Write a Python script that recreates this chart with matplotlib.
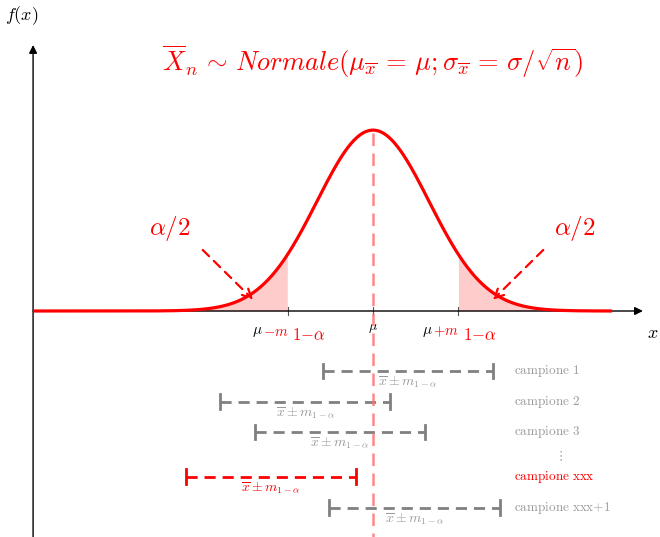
import numpy as np
import matplotlib
matplotlib.use("Agg")
import matplotlib.pyplot as plt

plt.rcParams["mathtext.fontset"] = "cm"

# Distribution of the sample mean (units of sigma, centred on mu)
mu = 0.0
sigma = 1.0
peak = 3.23          # drawn height of the density at mu
m_half = 1.52        # margin m_{1-alpha}
x_start, x_end = -6.07, 4.27

# Confidence intervals from successive samples
sample_labels = ["campione 1", "campione 2", "campione 3", "campione xxx", "campione xxx+1"]
sample_means = [0.62, -1.21, -0.59, -1.82, 0.74]
sample_rows = [-1.07, -1.62, -2.16, -2.96, -3.51]
sample_colors = ["#808080", "#808080", "#808080", "red", "#808080"]
label_colors = ["#9a9a9a", "#9a9a9a", "#9a9a9a", "red", "#9a9a9a"]

S = 56.0  # pixels per unit
fig = plt.figure(figsize=(6.6, 5.37), dpi=100)
ax = fig.add_axes([0, 0, 1, 1])
ax.set_xlim((0 - 373) / S, (660 - 373) / S)
ax.set_ylim((311 - 537) / S, 311 / S)
ax.axis("off")

# Axes with arrows
ax.annotate("", xy=(4.82, 0), xytext=(-6.07, 0),
            arrowprops=dict(arrowstyle="-|>", color="black", lw=1.0,
                            mutation_scale=12, shrinkA=0, shrinkB=0))
ax.annotate("", xy=(-6.07, 4.75), xytext=(-6.07, -4.1),
            arrowprops=dict(arrowstyle="-|>", color="black", lw=1.0,
                            mutation_scale=12, shrinkA=0, shrinkB=0))
ax.text(4.99, -0.39, r"$x$", fontsize=13, ha="center", va="center")
ax.text(-6.27, 5.27, r"$f(x)$", fontsize=13, ha="center", va="center")

# Density curve and the two tails
xs = np.linspace(x_start, x_end, 600)
ys = peak * np.exp(-((xs - mu) / sigma) ** 2 / 2)
left = xs <= mu - m_half
right = xs >= mu + m_half
ax.fill_between(xs[left], 0, ys[left], color="#ffcccc", lw=0)
ax.fill_between(xs[right], 0, ys[right], color="#ffcccc", lw=0)
ax.plot(xs, ys, color="red", lw=2.3, solid_capstyle="butt", zorder=5)

# Vertical dashed line at mu
ax.plot([mu, mu], [peak - 0.05, -4.1], color=(1, 0.45, 0.45), lw=1.8,
        dashes=(5, 3), alpha=0.85, zorder=4)

# Ticks and tick labels
for t in (mu - m_half, mu, mu + m_half):
    ax.plot([t, t], [-0.07, 0.07], color="#555555", lw=0.8)
ax.text(mu, -0.3, r"$\mu$", fontsize=10, ha="center", va="center")
for t, sign in ((mu - m_half, "{-}"), (mu + m_half, "{+}")):
    ax.annotate(r"$\mu$", xy=(t, -0.36), xytext=(-25, 0), textcoords="offset pixels",
                fontsize=11, ha="right", va="center")
    ax.annotate(r"$%sm$" % sign, xy=(t, -0.36), xytext=(-25, 0),
                textcoords="offset pixels", fontsize=10.5, ha="left", va="center",
                color="red")
    ax.annotate(r"$1{-}\alpha$", xy=(t, -0.42), xytext=(4.5, 0),
                textcoords="offset pixels", fontsize=12, ha="left", va="center",
                color="red")

# Title
ax.text(0.0, 4.45,
        r"$\overline{X}_n \,\sim\, Normale(\mu_{\overline{x}} \,=\, \mu; \sigma_{\overline{x}} \,=\, \sigma/\sqrt{n})$",
        fontsize=19, color="red", ha="center", va="center")

# Tail annotations
arrow_kw = dict(arrowstyle="->", color="red", lw=1.6, linestyle=(0, (4, 3)),
                mutation_scale=16, shrinkA=0, shrinkB=0)
ax.annotate("", xy=(-2.14, 0.2), xytext=(-3.04, 1.09), arrowprops=arrow_kw)
ax.annotate("", xy=(2.14, 0.2), xytext=(3.04, 1.09), arrowprops=arrow_kw)
ax.text(-3.62, 1.48, r"$\alpha/2$", fontsize=18, color="red", ha="center", va="center")
ax.text(3.61, 1.48, r"$\alpha/2$", fontsize=18, color="red", ha="center", va="center")

# Confidence intervals
for lab, c, yrow, col, lcol in zip(sample_labels, sample_means, sample_rows,
                                   sample_colors, label_colors):
    lo, hi = c - m_half, c + m_half
    ax.plot([lo, hi], [yrow, yrow], color=col, lw=2.0, dashes=(4, 2.5))
    for e in (lo, hi):
        ax.plot([e, e], [yrow - 0.13, yrow + 0.13], color=col, lw=2.0)
    ax.text(c, yrow - 0.2, r"$\overline{x} \pm m_{1-\alpha}$", fontsize=10,
            color=lcol, ha="center", va="center")
    name = lab.replace(" ", r"\ ").replace("+", "{+}")
    ax.text(2.52, yrow, r"$\mathrm{%s}$" % name, fontsize=9.5,
            color=lcol, ha="left", va="center")
ax.text(3.34, -2.6, r"$\vdots$", fontsize=9, color="#9a9a9a", ha="center", va="center")

fig.savefig("out.png", dpi=100)
